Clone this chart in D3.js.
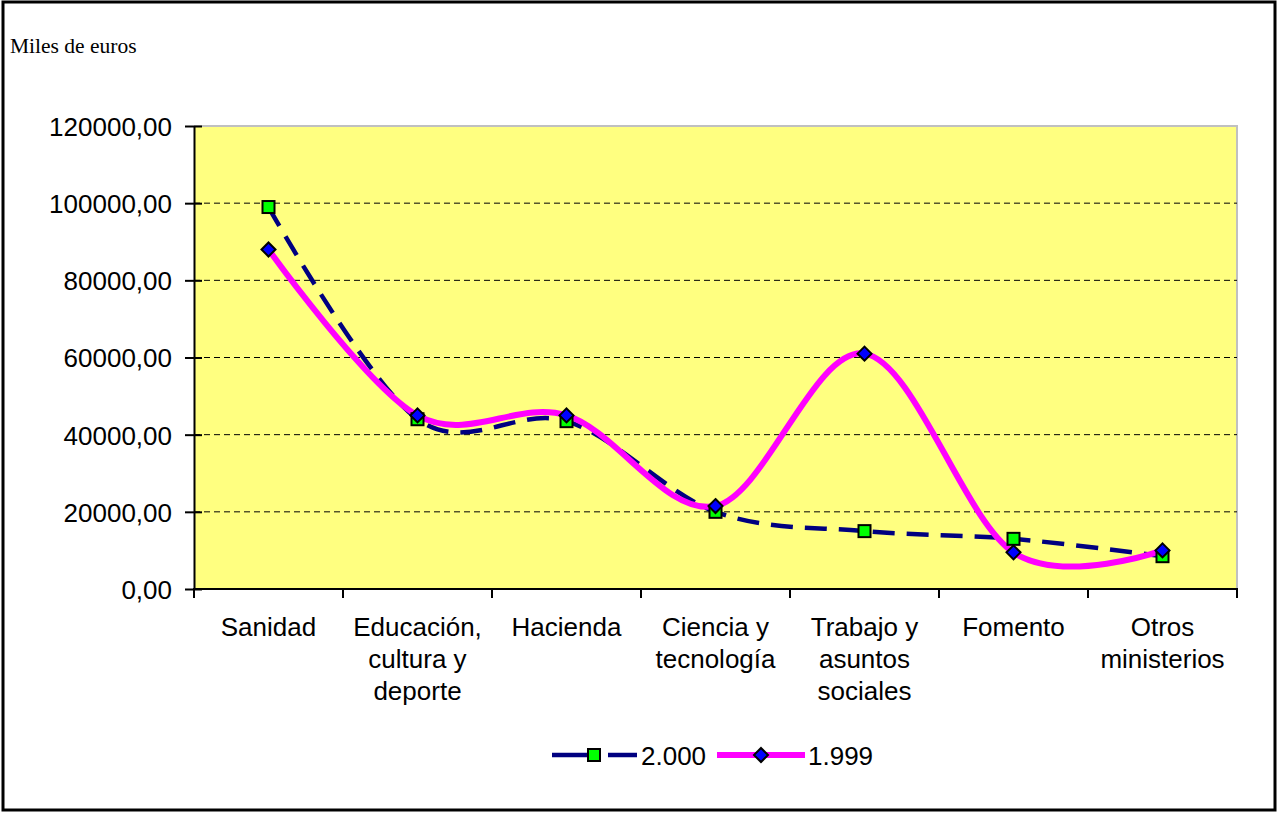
<!DOCTYPE html>
<html><head><meta charset="utf-8">
<script src="https://cdn.jsdelivr.net/npm/d3@7"></script>
<style>html,body{margin:0;padding:0;background:#fff;}svg{display:block;}</style>
</head><body>
<svg id="chart" width="1278" height="814"></svg>
<script>
const categories = [["Sanidad"],["Educación,","cultura y","deporte"],["Hacienda"],["Ciencia y","tecnología"],["Trabajo y","asuntos","sociales"],["Fomento"],["Otros","ministerios"]];
const values2000 = [99000, 44000, 43500, 20000, 15000, 13000, 8500];
const values1999 = [88000, 45000, 45000, 21500, 61000, 9500, 10000];
const yTicks = [0, 20000, 40000, 60000, 80000, 100000, 120000];
const seriesNames = ["2.000", "1.999"];

const svg = d3.select("#chart");
const L = 194, R = 1237, T = 126, B = 589;
const FONT = "Arial,'Liberation Sans',sans-serif";
const FS = 26;

// outer border
svg.append("rect").attr("x",3).attr("y",2).attr("width",1272).attr("height",808)
  .attr("fill","none").attr("stroke","#000").attr("stroke-width",3);

svg.append("text").attr("x",10).attr("y",53).attr("font-family","'Liberation Serif','Times New Roman',serif")
  .attr("font-size",21.5).text("Miles de euros");

const x = d3.scaleBand().domain(d3.range(categories.length)).range([L,R]).padding(0);
const y = d3.scaleLinear().domain([0,120000]).range([B,T]);
const cx = i => x(i) + x.bandwidth()/2;

// plot area
svg.append("rect").attr("x",L).attr("y",T).attr("width",R-L).attr("height",B-T).attr("fill","#FFFF80");
svg.append("path").attr("d",`M${L},${T}H${R}V${B}`).attr("fill","none").attr("stroke","#C0C0C0").attr("stroke-width",2);

// gridlines
svg.append("g").selectAll("line").data(yTicks.filter(d=>d>0 && d<120000)).join("line")
  .attr("x1",L).attr("x2",R).attr("y1",d=>y(d)).attr("y2",d=>y(d))
  .attr("stroke","#000").attr("stroke-width",1).attr("stroke-dasharray","6,4");

// y axis
const yAxis = d3.axisLeft(y).tickValues(yTicks).tickSize(0)
  .tickFormat(d=>d3.format(".2f")(d).replace(".",","));
const gy = svg.append("g").attr("transform",`translate(${L},0)`).call(yAxis);
gy.select(".domain").attr("stroke","#000").attr("stroke-width",2);
gy.selectAll(".tick text").attr("x",-22).attr("dy","0.36em").attr("font-family",FONT).attr("font-size",FS).attr("fill","#000");
gy.selectAll(".tick").append("line").attr("x1",-9).attr("x2",8).attr("stroke","#000").attr("stroke-width",2);

// x axis
const gx = svg.append("g").attr("transform",`translate(0,${B})`);
gx.append("line").attr("x1",L).attr("x2",R).attr("stroke","#000").attr("stroke-width",2);
gx.selectAll("line.t").data(d3.range(categories.length+1)).join("line").attr("class","t")
  .attr("x1",i=>L+i*x.bandwidth()).attr("x2",i=>L+i*x.bandwidth()).attr("y1",-1).attr("y2",9)
  .attr("stroke","#000").attr("stroke-width",2);
const labels = svg.append("g");
categories.forEach((lines,i)=>{
  const t = labels.append("text").attr("x",cx(i)).attr("y",636).attr("text-anchor","middle")
    .attr("font-family",FONT).attr("font-size",FS).attr("fill","#000");
  lines.forEach((s,j)=>t.append("tspan").attr("x",cx(i)).attr("dy",j===0?0:32).text(s));
});

const curve = d3.curveCardinal.tension(0);
const line = d3.line().x((d,i)=>cx(i)).y(d=>y(d)).curve(curve);

svg.append("path").datum(values2000).attr("d",line).attr("fill","none")
  .attr("stroke","#000080").attr("stroke-width",4.5).attr("stroke-dasharray","22,12");
svg.append("path").datum(values1999).attr("d",line).attr("fill","none")
  .attr("stroke","#FF00FF").attr("stroke-width",6);

const sq = 12;
svg.append("g").selectAll("rect").data(values2000).join("rect")
  .attr("x",(d,i)=>cx(i)-sq/2).attr("y",d=>y(d)-sq/2).attr("width",sq).attr("height",sq)
  .attr("fill","#00FF00").attr("stroke","#000").attr("stroke-width",2);
const dia = 7;
svg.append("g").selectAll("path").data(values1999).join("path")
  .attr("d",(d,i)=>`M${cx(i)},${y(d)-dia}L${cx(i)+dia},${y(d)}L${cx(i)},${y(d)+dia}L${cx(i)-dia},${y(d)}Z`)
  .attr("fill","#0000FF").attr("stroke","#000").attr("stroke-width",2);

// legend
const lg = svg.append("g");
const ly = 755;
lg.append("line").attr("x1",552).attr("x2",587).attr("y1",ly).attr("y2",ly).attr("stroke","#000080").attr("stroke-width",4.5);
lg.append("line").attr("x1",608).attr("x2",637).attr("y1",ly).attr("y2",ly).attr("stroke","#000080").attr("stroke-width",4.5);
lg.append("rect").attr("x",594-sq/2).attr("y",ly-sq/2).attr("width",sq).attr("height",sq).attr("fill","#00FF00").attr("stroke","#000").attr("stroke-width",2);
lg.append("text").attr("x",641).attr("y",ly+10).attr("font-family",FONT).attr("font-size",FS).text(seriesNames[0]);
lg.append("line").attr("x1",717).attr("x2",805).attr("y1",ly).attr("y2",ly).attr("stroke","#FF00FF").attr("stroke-width",6);
lg.append("path").attr("d",`M761,${ly-dia}L${761+dia},${ly}L761,${ly+dia}L${761-dia},${ly}Z`).attr("fill","#0000FF").attr("stroke","#000").attr("stroke-width",2);
lg.append("text").attr("x",808).attr("y",ly+10).attr("font-family",FONT).attr("font-size",FS).text(seriesNames[1]);
</script>
</body></html>
